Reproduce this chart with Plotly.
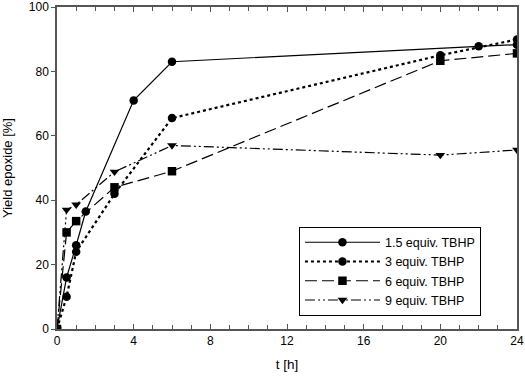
import plotly.graph_objects as go

# time points [h] and yields [%] for each TBHP loading
t_15 = [0, 0.5, 1, 1.5, 4, 6, 22, 24]
y_15 = [0, 16, 26, 36.5, 71, 83, 87.8, 88.3]

t_3 = [0, 0.5, 1, 3, 6, 20, 24]
y_3 = [0, 10, 24, 42, 65.5, 85, 89.9]

t_6 = [0, 0.5, 1, 3, 6, 20, 24]
y_6 = [0, 30, 33.5, 44, 49, 83.3, 85.6]

t_9 = [0, 0.5, 1, 3, 6, 20, 24]
y_9 = [0, 37, 38.6, 48.8, 57, 54, 55.6]

names = ["1.5 equiv. TBHP", "3 equiv. TBHP", "6 equiv. TBHP", "9 equiv. TBHP"]

series = [
    (t_15, y_15, "solid", "circle", 1.2),
    (t_3, y_3, "dot", "circle", 2.2),
    (t_6, y_6, "12px,5px", "square", 1.2),
    (t_9, y_9, "10px,3px,2px,3px,2px,3px", "triangle-down", 1.2),
]

fig = go.Figure()
for (x, y, dash, sym, w), name in zip(series, names):
    fig.add_trace(go.Scatter(
        x=x, y=y,
        mode="lines+markers",
        name=name,
        line=dict(color="black", width=w, dash=dash),
        marker=dict(symbol=sym, size=8.5, color="black"),
    ))

axis_font = dict(family="Liberation Sans, Arial, sans-serif", size=12, color="black")

fig.update_layout(
    width=525, height=386,
    margin=dict(l=57, r=8, t=7, b=57),
    paper_bgcolor="white",
    plot_bgcolor="white",
    font=axis_font,
    showlegend=True,
    legend=dict(
        x=0.526, y=0.318, xanchor="left", yanchor="top",
        bordercolor="black", borderwidth=1,
        bgcolor="white",
        font=dict(family="Liberation Sans, Arial, sans-serif", size=12.5),
        itemwidth=75,
        tracegroupgap=0,
    ),
    xaxis=dict(
        range=[0, 24], dtick=4, tick0=0,
        showgrid=False, zeroline=False,
        showline=True, linecolor="#555", linewidth=1.5,
        mirror="ticks", ticks="inside", ticklen=5, tickcolor="#555",
        minor=dict(dtick=1, ticks="inside", ticklen=4, tickcolor="#555"),
        title=dict(text="t [h]", font=dict(size=13.5), standoff=12),
        automargin=False,
    ),
    yaxis=dict(
        range=[0, 100], dtick=20,
        showgrid=False, zeroline=False,
        showline=True, linecolor="#555", linewidth=1.5,
        mirror=True, ticks="outside", ticklen=4, tickcolor="#555",
        title=dict(text="Yield epoxide [%]", font=dict(size=13), standoff=14),
        automargin=False,
    ),
)

# drop the default body margin so the figure sits at the page corner
fig.write_html("out.html", config={"displayModeBar": False},
               post_script="document.body.style.margin='0';")
